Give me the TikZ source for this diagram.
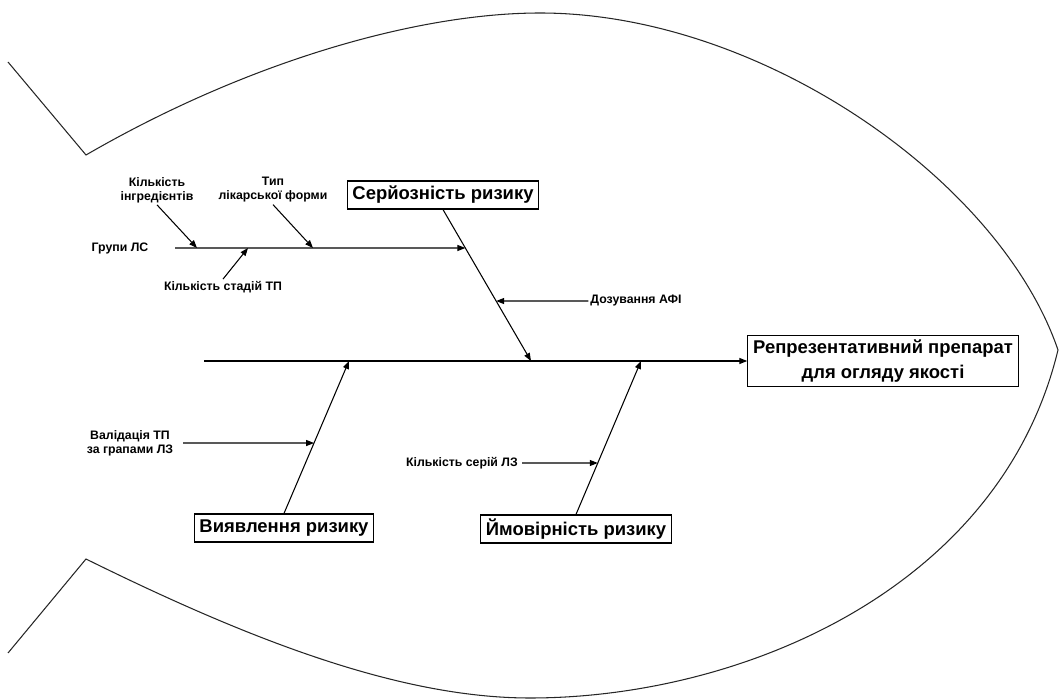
\documentclass[tikz,border=0pt]{standalone}
\usepackage{fontspec}
\setmainfont{Liberation Sans}
\usepackage{tikz}
\usetikzlibrary{calc,arrows.meta}
\usetikzlibrary{positioning}

\begin{document}
\begin{tikzpicture}[x=0.02cm, y=-0.02cm,
    >={Triangle[length=4.5pt,width=3.4pt]},
    cause/.style={rectangle, draw=black, fill=white, line width=0.7pt, inner xsep=3pt, inner ysep=0pt, minimum height=15.9pt, font=\bfseries\fontsize{10.5}{14}\selectfont},
    effect/.style={cause, align=center, minimum width=153.7pt, minimum height=28.9pt},
    factor/.style={align=center, inner sep=1pt, font=\bfseries\fontsize{7}{8}\selectfont},
    fish/.style={draw=black!85, line width=0.6pt},
    every edge/.style={draw, line width=0.6pt}
    ]
    \useasboundingbox (0,0) rectangle (1063,699);

    % fish outline
    \draw[fish] (8,62) -- (86,155) .. controls (250,60) and (420,13) .. (540,13)
        .. controls (760,13) and (1000,180) .. (1058,350)
        .. controls (1000,590) and (740,698) .. (530,698)
        .. controls (400,698) and (250,640) .. (86,559) -- (8,653);

    % head and main causes
    \node[effect] (goal) at (883,361) {Репрезентативний препарат\\для огляду якості};
    \node[cause] (ser) at (443,195) {Серйозність ризику};
    \node[cause] (vyj) at (284,528) {Виявлення ризику};
    \node[cause] (imov) at (576,529) {Ймовірність ризику};

    \coordinate (tail) at (204,361);
    \coordinate (s1) at (531,361);
    \coordinate (v1) at (349,361);
    \coordinate (i1) at (641,361);

    % spine and bones
    \draw[line width=0.7pt, ->] (tail) -- (goal.west);
    \path[->]
    (ser.south) edge (s1)
    (vyj.north) edge (v1)
    (imov.north) edge (i1)
    ;

    % sub causes of the upper bone
    \node[factor] (grp) at (120,248) {Групи ЛС};
    \coordinate (g0) at (175,248);
    \coordinate (g1) at (intersection of ser.south--s1 and g0--grp.east);
    \path[->] (g0) edge (g1);

    \node[factor] (ingr) at (157,190) {Кількість\\інгредієнтів};
    \node[factor] (typ) at (273,190) {Тип\\лікарської форми};
    \node[factor] (stad) at (223,287) {Кількість стадій ТП};
    \coordinate (a1) at (197,248);
    \coordinate (a2) at (313,248);
    \coordinate (a3) at (248,248);
    \foreach \n/\c in {ingr.south/a1, typ.south/a2, stad.north/a3} {
        \path[->] (\n) edge (\c);
    }

    \node[factor] (doz) at (636,301) {Дозування АФІ};
    \coordinate (d1) at (intersection of ser.south--s1 and doz.west--doz.east);
    \path[->] (doz.west) edge (d1);

    % sub causes of the lower bones
    \node[factor] (val) at (130,443) {Валідація ТП\\за грапами ЛЗ};
    \coordinate (val0) at (183,443);
    \coordinate (val1) at (intersection of vyj.north--v1 and val0--val.east);
    \path[->] (val0) edge (val1);

    \node[factor] (kser) at (462,463) {Кількість серій ЛЗ};
    \coordinate (k0) at (522,463);
    \coordinate (k1) at (intersection of imov.north--i1 and k0--kser.east);
    \path[->] (k0) edge (k1);

\end{tikzpicture}
\end{document}
